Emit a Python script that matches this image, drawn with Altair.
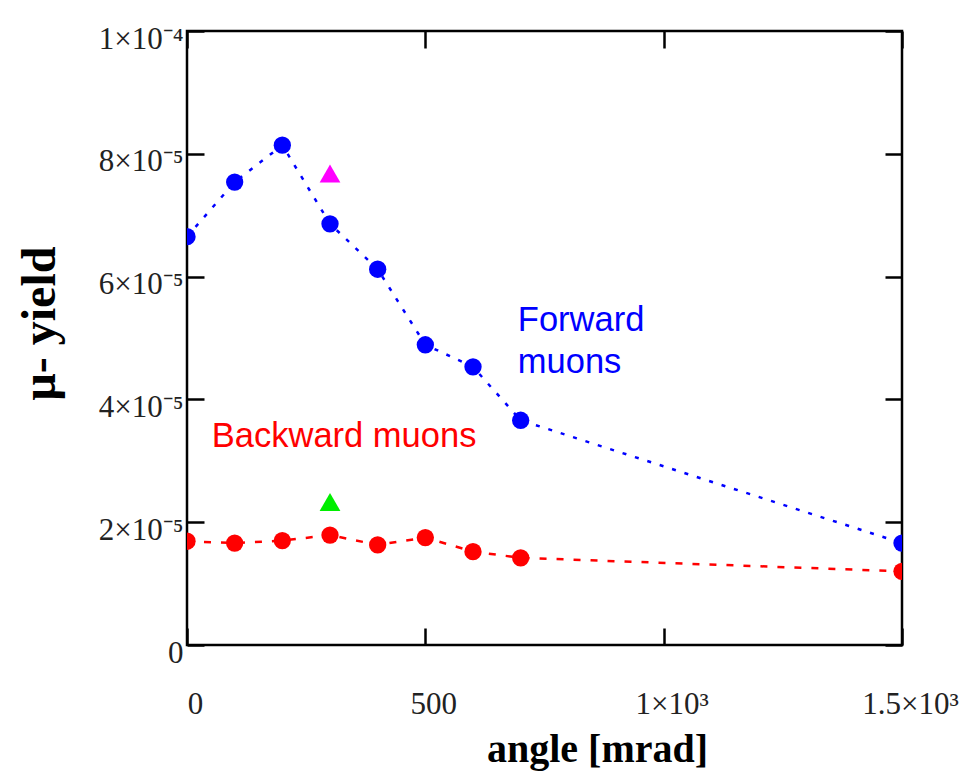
import altair as alt
import pandas as pd

# ---- data ----
angles = [0, 100, 200, 300, 400, 500, 600, 700, 1500]
forward = [6.65e-5, 7.54e-5, 8.14e-5, 6.86e-5, 6.12e-5, 4.89e-5, 4.53e-5, 3.66e-5, 1.66e-5]
backward = [1.69e-5, 1.66e-5, 1.70e-5, 1.79e-5, 1.63e-5, 1.75e-5, 1.52e-5, 1.42e-5, 1.20e-5]

tri_angles = [300, 300]
tri_values = [7.68e-5, 2.33e-5]
tri_colors = ["#ff00ff", "#00ee00"]

x_ticks = [0, 500, 1000, 1500]
x_labels = ["0", "500", "1×10³", "1.5×10³"]
y_ticks = [0, 2e-5, 4e-5, 6e-5, 8e-5, 1e-4]
y_labels = ["0", "2×10⁻⁵", "4×10⁻⁵", "6×10⁻⁵", "8×10⁻⁵", "1×10⁻⁴"]

note_text = ["Forward", "muons", "Backward muons"]
note_x = [694, 694, 52]
note_y = [5.12e-5, 4.43e-5, 3.22e-5]
note_color = ["#0000ff", "#0000ff", "#ff0000"]

series_names = ["Forward", "Backward"]
series_colors = ["#0000ff", "#ff0000"]

# ---- tables ----
df = pd.concat([
    pd.DataFrame({"angle": angles, "value": forward, "series": "Forward"}),
    pd.DataFrame({"angle": angles, "value": backward, "series": "Backward"}),
])
tri = pd.DataFrame({"angle": tri_angles, "value": tri_values, "color": tri_colors})
notes = pd.DataFrame({"text": note_text, "angle": note_x, "value": note_y, "color": note_color})

x_expr = "[" + ",".join("'%s'" % s for s in x_labels) + "][round(datum.value/500)]"
y_expr = "[" + ",".join("'%s'" % s for s in y_labels) + "][round(datum.value/2e-5)]"

xdom = [0, 1500]
ydom = [0, 1e-4]

x_main = alt.X(
    "angle:Q",
    scale=alt.Scale(domain=xdom, nice=False, zero=False),
    axis=alt.Axis(
        values=x_ticks, labelExpr=x_expr, orient="bottom", offset=-17, tickSize=17,
        domain=False, grid=False, tickColor="black", tickWidth=2.5,
        labelFont="Liberation Serif", labelFontSize=31, labelColor="#222222",
        labelBaseline="alphabetic", labelPadding=68, labelOffset=8, labelFlush=False,
        labelOverlap=False,
        title="angle [mrad]", titleFont="Liberation Serif", titleFontSize=40,
        titleFontWeight="bold", titleColor="black", titleX=410, titleY=133,
        titleAlign="center", titleBaseline="alphabetic",
    ),
)
y_main = alt.Y(
    "value:Q",
    scale=alt.Scale(domain=ydom, nice=False, zero=False),
    axis=alt.Axis(
        values=y_ticks, labelExpr=y_expr, orient="left", offset=-17, tickSize=17,
        domain=False, grid=False, tickColor="black", tickWidth=2.5,
        labelFont="Liberation Serif", labelFontSize=31, labelColor="#222222",
        labelBaseline="middle", labelAlign="right", labelPadding=4, labelOffset=8,
        labelFlush=False, labelOverlap=False,
        title="μ- yield", titleFont="Liberation Serif", titleFontSize=48,
        titleFontWeight="bold", titleColor="black", titleX=-164, titleY=292,
        titleAlign="center", titleBaseline="middle", titleAngle=270,
    ),
)

color = alt.Color("series:N", scale=alt.Scale(domain=series_names, range=series_colors), legend=None)

lines = alt.Chart(df).mark_line(strokeWidth=2.5, clip=True).encode(
    x=x_main, y=y_main, color=color,
    strokeDash=alt.StrokeDash("series:N", scale=alt.Scale(domain=series_names, range=[[4, 9], [7, 10]]), legend=None),
    detail="series:N",
)
points = alt.Chart(df).mark_circle(size=300, opacity=1, clip=True).encode(
    x="angle:Q", y="value:Q", color=color,
)
tris = alt.Chart(tri).mark_point(shape="triangle-up", size=430, filled=True, opacity=1, clip=True).encode(
    x="angle:Q", y="value:Q", color=alt.Color("color:N", scale=None),
)
texts = alt.Chart(notes).mark_text(align="left", baseline="alphabetic", font="Liberation Sans", fontSize=34.5).encode(
    x="angle:Q", y="value:Q", text="text:N", color=alt.Color("color:N", scale=None),
)

main = alt.layer(lines, points, tris, texts)

mirror = alt.Chart(df).mark_point(opacity=0).encode(
    x=alt.X("angle:Q", scale=alt.Scale(domain=xdom, nice=False, zero=False),
            axis=alt.Axis(values=x_ticks, orient="top", offset=-17, tickSize=17, domain=False, grid=False,
                          labels=False, title=None, tickColor="black", tickWidth=2.5)),
    y=alt.Y("value:Q", scale=alt.Scale(domain=ydom, nice=False, zero=False),
            axis=alt.Axis(values=y_ticks, orient="right", offset=-17, tickSize=17, domain=False, grid=False,
                          labels=False, title=None, tickColor="black", tickWidth=2.5)),
)

chart = alt.layer(main, mirror).resolve_scale(x="independent", y="independent").properties(
    width=715, height=614,
    autosize=alt.AutoSizeParams(type="none"),
    padding={"left": 179, "top": 23, "right": 60, "bottom": 127},
    background="white",
).configure_view(stroke="black", strokeWidth=2.5)

chart.save("out.html", embed_options={"renderer": "svg", "actions": False})
